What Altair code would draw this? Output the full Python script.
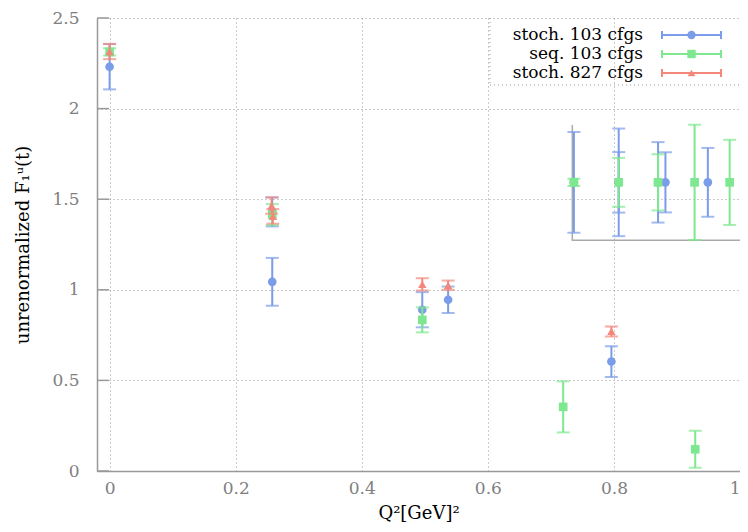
import altair as alt
import pandas as pd

# ---- data ----
series_names = ["stoch. 103 cfgs", "seq. 103 cfgs", "stoch. 827 cfgs"]
colors = ["#7b9ce8", "#7de88f", "#f4877b"]
shapes = ["circle", "square", "triangle-up"]

blue_x = [0.0, 0.258, 0.258, 0.496, 0.537, 0.796, 0.7365, 0.8076, 0.8076, 0.870, 0.8817, 0.949]
blue_y = [2.231, 1.43, 1.044, 0.89, 0.945, 0.604, 1.593, 1.593, 1.593, 1.593, 1.593, 1.593]
blue_e = [0.125, 0.08, 0.132, 0.097, 0.073, 0.085, 0.278, 0.297, 0.167, 0.222, 0.166, 0.19]

green_x = [0.0, 0.258, 0.496, 0.7195, 0.929, 0.7365, 0.8076, 0.870, 0.928, 0.9836]
green_y = [2.313, 1.415, 0.834, 0.354, 0.12, 1.593, 1.593, 1.593, 1.593, 1.593]
green_e = [0.02, 0.058, 0.069, 0.141, 0.102, 0.02, 0.135, 0.155, 0.318, 0.235]

red_x = [0.0, 0.257, 0.259, 0.496, 0.537, 0.796]
red_y = [2.315, 1.465, 1.405, 1.03, 1.025, 0.77]
red_e = [0.042, 0.045, 0.04, 0.034, 0.026, 0.028]

x_ticks = [0, 0.2, 0.4, 0.6, 0.8, 1.0]
y_ticks = [0, 0.5, 1.0, 1.5, 2.0, 2.5]

inset_x = [0.734, 0.734, 1.0]
inset_y = [1.91, 1.273, 1.273]

x_title = "Q²[GeV]²"
y_title = "unrenormalized F₁ᵘ(t)"

FONT = "DejaVu Serif"

all_series = [(blue_x, blue_y, blue_e), (green_x, green_y, green_e), (red_x, red_y, red_e)]

xscale = alt.Scale(domain=[-0.02, 1.0], nice=False, zero=False)
yscale = alt.Scale(domain=[0, 2.5], nice=False, zero=False)

x_axis = alt.Axis(values=x_ticks, format=".1~f", grid=True, gridDash=[1, 3], gridColor="#999999",
                  domainColor="#999999", domainWidth=1.5, ticks=False, labelFont=FONT, labelFontSize=17,
                  labelColor="#808080", labelPadding=9, title=x_title, titleFont=FONT, titleFontSize=18,
                  titleColor="black", titleFontWeight="normal", titlePadding=8)
y_axis = alt.Axis(values=y_ticks, format=".1~f", grid=True, gridDash=[1, 3], gridColor="#999999",
                  domainColor="#999999", domainWidth=1.5, ticks=False, labelFont=FONT, labelFontSize=17,
                  labelColor="#808080", labelPadding=18, title=y_title, titleFont=FONT, titleFontSize=18,
                  titleColor="black", titleFontWeight="normal", titlePadding=19)


def XF(field):
    return alt.X(field, type="quantitative", scale=xscale, axis=x_axis)


def YF(field):
    return alt.Y(field, type="quantitative", scale=yscale, axis=y_axis)


layers = []

# inward ticks on the left border
tick_df = pd.DataFrame({"yt": y_ticks})
layers.append(
    alt.Chart(tick_df).mark_rule(color="#999999", strokeWidth=1.5).encode(
        x=alt.value(0), x2=alt.value(12), y=YF("yt"),
    )
)

# inset frame
inset_df = pd.DataFrame({"ix": inset_x, "iy": inset_y, "o": list(range(len(inset_x)))})
layers.append(
    alt.Chart(inset_df).mark_line(color="#aaaaaa", strokeWidth=1.5).encode(
        x=XF("ix"), y=YF("iy"), order="o:Q",
    )
)

for name, col, shp, (xs, ys, es) in zip(series_names, colors, shapes, all_series):
    df = pd.DataFrame({
        "q2": xs, "f": ys,
        "lo": [y - e for y, e in zip(ys, es)],
        "hi": [y + e for y, e in zip(ys, es)],
    })
    base = alt.Chart(df)
    layers.append(base.mark_rule(color=col, strokeWidth=2).encode(
        x=XF("q2"), y=YF("lo"), y2="hi:Q"))
    layers.append(base.mark_tick(color=col, orient="horizontal", size=13, thickness=2).encode(
        x=XF("q2"), y=YF("lo")))
    layers.append(base.mark_tick(color=col, orient="horizontal", size=13, thickness=2).encode(
        x=XF("q2"), y=YF("hi")))
    layers.append(base.mark_point(color=col, shape=shp, filled=True, opacity=1,
                                  size=75 if shp != "triangle-up" else 70).encode(
        x=XF("q2"), y=YF("f")))

# key (legend), drawn in pixel space at top right
row_y = [17, 36, 55]
for name, col, shp, ry in zip(series_names, colors, shapes, row_y):
    ldf = pd.DataFrame({"series": [name]})
    lb = alt.Chart(ldf)
    layers.append(lb.mark_text(align="right", baseline="middle", font=FONT, fontSize=17, color="black").encode(
        x=alt.value(546), y=alt.value(ry), text="series:N"))
    layers.append(lb.mark_rule(color=col, strokeWidth=2).encode(
        x=alt.value(565), x2=alt.value(624), y=alt.value(ry)))
    layers.append(lb.mark_rule(color=col, strokeWidth=2).encode(
        x=alt.value(565), y=alt.value(ry - 4), y2=alt.value(ry + 4)))
    layers.append(lb.mark_rule(color=col, strokeWidth=2).encode(
        x=alt.value(624), y=alt.value(ry - 4), y2=alt.value(ry + 4)))
    layers.append(lb.mark_point(color=col, shape=shp, filled=True, opacity=1,
                                size=70 if shp != "triangle-up" else 60).encode(
        x=alt.value(594.5), y=alt.value(ry)))

box_df = pd.DataFrame({"k": [0]})
layers.append(alt.Chart(box_df).mark_rule(color="#999999", strokeDash=[1, 3]).encode(
    x=alt.value(393), x2=alt.value(643), y=alt.value(67)))
layers.append(alt.Chart(box_df).mark_rule(color="#999999", strokeDash=[1, 3]).encode(
    x=alt.value(393), y=alt.value(0), y2=alt.value(67)))

chart = alt.layer(*layers).properties(
    width=643, height=453,
    autosize=alt.AutoSizeParams(type="none"),
    padding={"left": 89, "top": 10, "right": 0, "bottom": 51},
).configure_view(stroke=None)

chart.save("out.html", embed_options={"renderer": "svg", "actions": False})
